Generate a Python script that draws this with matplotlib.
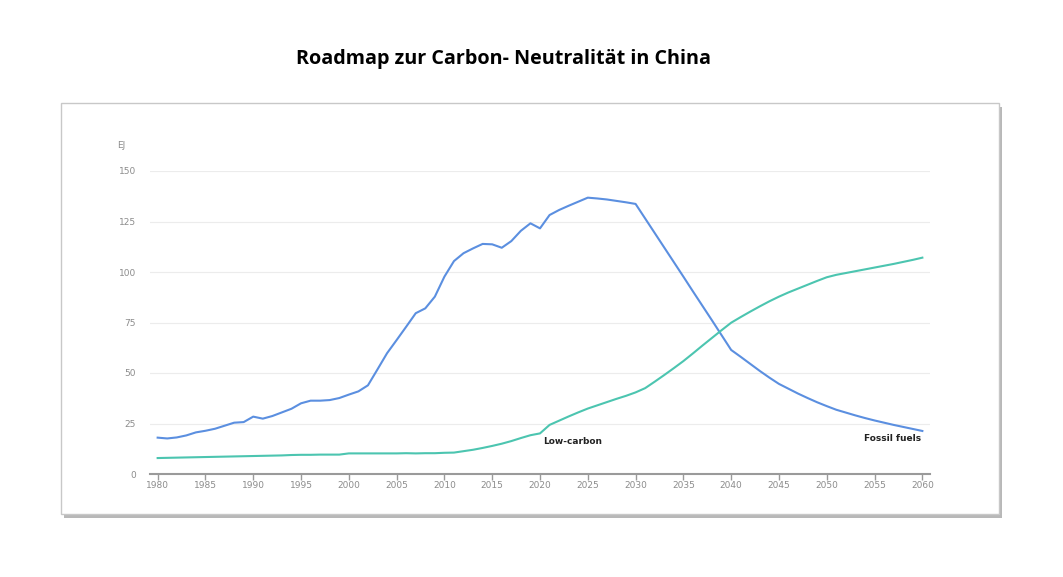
import numpy as np
import matplotlib.pyplot as plt
from matplotlib.patches import Rectangle

years = np.arange(1980, 2061)

fossil = [18.0, 17.6, 18.1, 19.1, 20.6, 21.4, 22.4, 23.9, 25.4, 25.7,
          28.4, 27.4, 28.7, 30.5, 32.3, 35.0, 36.3, 36.3, 36.6, 37.6,
          39.3, 40.9, 43.9, 51.8, 59.8, 66.3, 72.9, 79.6, 82.0, 87.8,
          97.7, 105.4, 109.3, 111.7, 113.9, 113.7, 112.0, 115.3, 120.4, 124.1,
          121.6, 128.2, 130.7, 132.8, 134.8, 136.8, 136.4, 135.9, 135.2, 134.5,
          133.7, 126.5, 119.3, 112.1, 104.9, 97.7, 90.4, 83.2, 76.0, 68.7,
          61.4, 58.0, 54.5, 51.0, 47.7, 44.6, 42.2, 39.8, 37.6, 35.5,
          33.6, 31.8, 30.4, 29.0, 27.7, 26.5, 25.4, 24.3, 23.3, 22.3,
          21.3]

low_carbon = [7.9, 8.0, 8.1, 8.2, 8.3, 8.4, 8.5, 8.6, 8.7, 8.8,
              8.9, 9.0, 9.1, 9.2, 9.4, 9.5, 9.5, 9.6, 9.6, 9.6,
              10.2, 10.2, 10.2, 10.2, 10.2, 10.2, 10.3, 10.2, 10.3, 10.3,
              10.5, 10.6, 11.3, 12.0, 12.9, 13.9, 15.0, 16.3, 17.8, 19.2,
              20.1, 24.3, 26.4, 28.5, 30.5, 32.4, 34.0, 35.6, 37.2, 38.7,
              40.4, 42.5, 45.7, 49.0, 52.4, 55.9, 59.7, 63.6, 67.4, 71.2,
              74.9, 77.7, 80.4, 83.0, 85.5, 87.8, 89.9, 91.8, 93.7, 95.6,
              97.4, 98.6, 99.5, 100.4, 101.3, 102.2, 103.1, 104.0, 105.0, 106.0,
              107.1]

yticks = [0, 25, 50, 75, 100, 125, 150]
xticks = np.arange(1980, 2061, 5)

W, H = 1063, 577
fig = plt.figure(figsize=(W / 100, H / 100), dpi=100)
fig.patch.set_facecolor('white')

# framed panel with shadow (behind the axes)
fig.patches.append(Rectangle((64 / W, 1 - 518 / H), 938 / W, 411 / H,
                             transform=fig.transFigure, facecolor='#b8b8b8',
                             edgecolor='none', zorder=-2))
fig.patches.append(Rectangle((61 / W, 1 - 514 / H), 938 / W, 411 / H,
                             transform=fig.transFigure, facecolor='white',
                             edgecolor='#c8c8c8', linewidth=1.0, zorder=-1))

fig.text(503 / W, 1 - 59 / H, 'Roadmap zur Carbon- Neutralität in China',
         ha='center', va='center', fontsize=14.2, fontweight='bold',
         family='Open Sans')

ax = fig.add_axes([150 / W, 1 - 474 / H, 780 / W, 303 / H])
ax.set_zorder(1)
ax.set_facecolor('none')
ax.plot(years, fossil, color='#5b8fe0', lw=1.5, zorder=3)
ax.plot(years, low_carbon, color='#4cc5b0', lw=1.5, zorder=3)

ax.set_xlim(1979.2, 2060.8)
ax.set_ylim(0, 150)
ax.set_yticks(yticks)
ax.set_xticks(xticks)
ax.grid(axis='y', color='#ececec', lw=0.8)
for s in ['top', 'right', 'left']:
    ax.spines[s].set_visible(False)
ax.spines['bottom'].set_color('#9a9a9a')
ax.spines['bottom'].set_linewidth(1.5)
ax.tick_params(axis='y', length=0, pad=10, labelsize=6.5, labelcolor='#8c8c8c')
ax.tick_params(axis='x', length=4, width=1, color='#9a9a9a', pad=1,
               labelsize=6.5, labelcolor='#8c8c8c')

ax.text(-0.042, 1.085, 'EJ', transform=ax.transAxes, fontsize=6.5,
        color='#8c8c8c', ha='left', va='center')
ax.text(2020.3, 16.3, 'Low-carbon', fontsize=6.5, fontweight='bold',
        color='#222222', ha='left', va='center')
ax.text(2059.9, 17.8, 'Fossil fuels', fontsize=6.5, fontweight='bold',
        color='#222222', ha='right', va='center')

fig.savefig('out.png', dpi=100)
